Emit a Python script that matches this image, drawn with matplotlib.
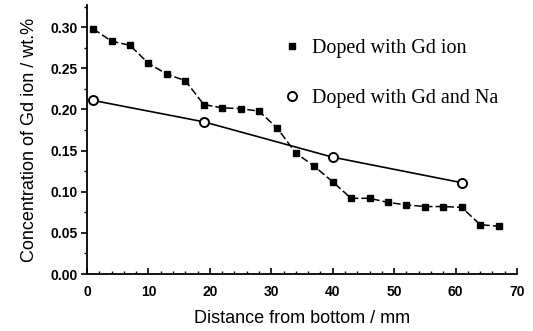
import matplotlib
matplotlib.use("Agg")
import matplotlib.pyplot as plt
from matplotlib.lines import Line2D
from matplotlib.ticker import MultipleLocator

gd_x = [1, 4, 7, 10, 13, 16, 19, 22, 25, 28, 31, 34, 37, 40, 43, 46, 49, 52, 55, 58, 61, 64, 67]
gd_y = [0.298, 0.283, 0.278, 0.256, 0.243, 0.235, 0.206, 0.202, 0.201, 0.198, 0.177, 0.147,
        0.131, 0.112, 0.092, 0.092, 0.087, 0.084, 0.082, 0.082, 0.081, 0.060, 0.058]
na_x = [1, 19, 40, 61]
na_y = [0.211, 0.185, 0.142, 0.111]

labels = ["Doped with Gd ion", "Doped with Gd and Na"]
xlabel = "Distance from bottom / mm"
ylabel = "Concentration of Gd ion / wt.%"

fig = plt.figure(figsize=(5.33, 3.31), dpi=100)
ax = fig.add_axes([87/533, 57/331, 430/533, 269/331])

ax.plot(gd_x, gd_y, color="black", lw=1.1, ls=(0, (5, 2)), marker="s", ms=4.5,
        mfc="black", mec="black")
ax.plot(na_x, na_y, color="black", lw=1.2, ls="-", marker="o", ms=6.5,
        mfc="white", mec="black", mew=1.4)

ax.set_xlim(0, 70)
ax.set_ylim(0, 0.327)
ax.xaxis.set_major_locator(MultipleLocator(10))
ax.xaxis.set_minor_locator(MultipleLocator(2))
ax.yaxis.set_major_locator(MultipleLocator(0.05))
ax.yaxis.set_minor_locator(MultipleLocator(0.025))
ax.set_yticks([0, 0.05, 0.10, 0.15, 0.20, 0.25, 0.30])
ax.set_yticklabels(["0.00", "0.05", "0.10", "0.15", "0.20", "0.25", "0.30"])

for s in ["top", "right"]:
    ax.spines[s].set_visible(False)
for s in ["left", "bottom"]:
    ax.spines[s].set_linewidth(1.3)

ax.tick_params(axis="x", which="major", direction="in", length=4, width=1.2, pad=8)
ax.tick_params(axis="x", which="minor", direction="in", length=2, width=1.0)
ax.tick_params(axis="y", which="major", direction="out", length=4, width=1.2, pad=3)
ax.tick_params(axis="y", which="minor", direction="out", length=2, width=1.0)

for lab in ax.get_xticklabels() + ax.get_yticklabels():
    lab.set_fontfamily("Liberation Sans")
    lab.set_fontweight("bold")
    lab.set_fontsize(10)

ax.set_xlabel(xlabel, fontfamily="Liberation Sans", fontsize=13, labelpad=8)
ax.set_ylabel(ylabel, fontfamily="Liberation Sans", fontsize=13, labelpad=9)

handles = [
    Line2D([], [], ls="none", marker="s", ms=4.5, mfc="black", mec="black"),
    Line2D([], [], ls="none", marker="o", ms=6.5, mfc="white", mec="black", mew=1.4),
]
leg = ax.legend(handles, labels, loc="center left", bbox_to_anchor=(0.453, 0.745),
                frameon=False, handlelength=1.0, handletextpad=0.5, labelspacing=1.5,
                borderpad=0, borderaxespad=0,
                prop={"family": "Liberation Serif", "size": 14.5})

fig.savefig("out.png", dpi=100)
